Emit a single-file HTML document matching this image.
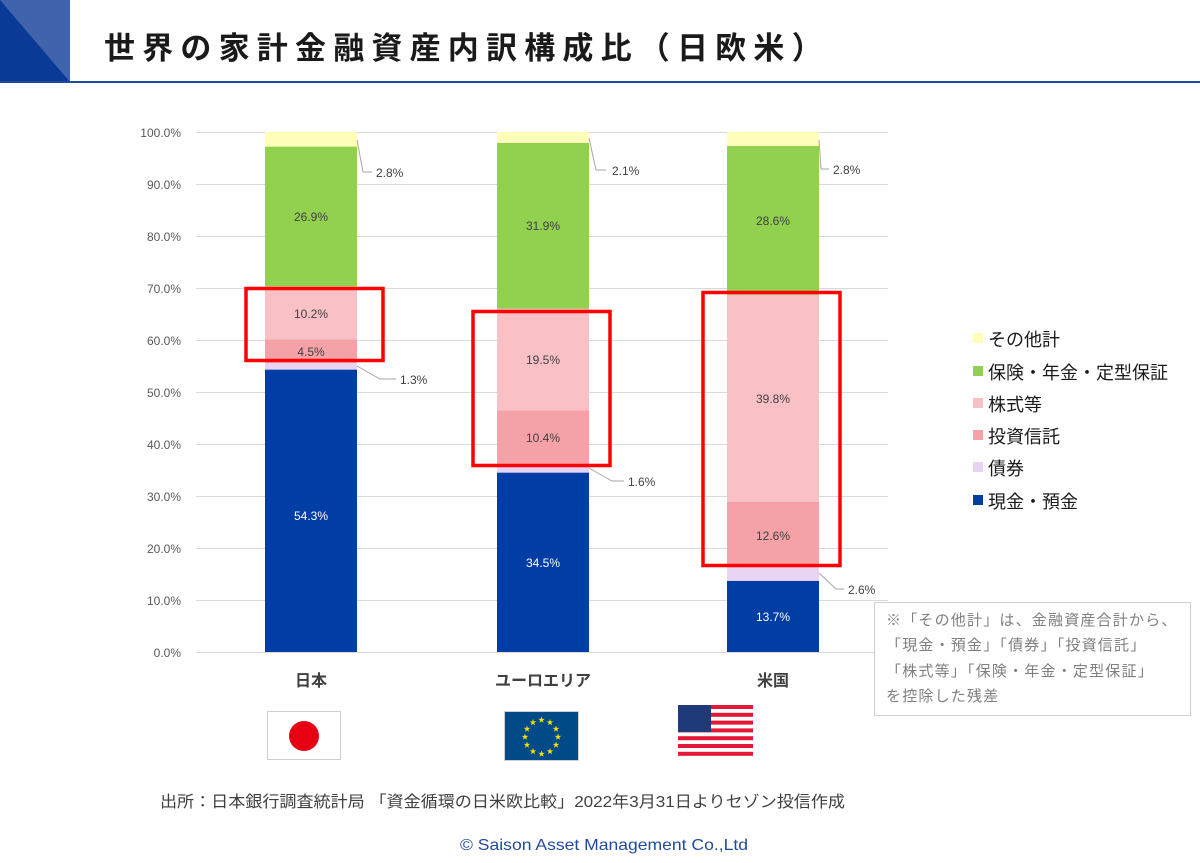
<!DOCTYPE html>
<html><head><meta charset="utf-8"><style>
html,body{margin:0;padding:0;background:#fff;}
body{width:1200px;height:858px;overflow:hidden;font-family:"Liberation Sans","Noto Sans CJK JP",sans-serif;}
</style></head><body>
<svg width="1200" height="858" viewBox="0 0 1200 858" xmlns="http://www.w3.org/2000/svg" font-family="Liberation Sans, Noto Sans CJK JP, sans-serif">
<rect x="0" y="0" width="70" height="82" fill="#3f63ad"/>
<polygon points="0,0 0,82 70,82" fill="#0a3a95"/>
<rect x="0" y="81" width="1200" height="2" fill="#1f4a9e"/>
<text x="104" y="59" font-size="31" font-weight="bold" fill="#1a1a1a" letter-spacing="7.2">世界の家計金融資産内訳構成比（日欧米）</text>
<g stroke="#d9d9d9" stroke-width="1">
<line x1="196" x2="888" y1="132.5" y2="132.5"/><line x1="196" x2="888" y1="184.5" y2="184.5"/>
<line x1="196" x2="888" y1="236.5" y2="236.5"/><line x1="196" x2="888" y1="288.5" y2="288.5"/>
<line x1="196" x2="888" y1="340.5" y2="340.5"/><line x1="196" x2="888" y1="392.5" y2="392.5"/>
<line x1="196" x2="888" y1="444.5" y2="444.5"/><line x1="196" x2="888" y1="496.5" y2="496.5"/>
<line x1="196" x2="888" y1="548.5" y2="548.5"/><line x1="196" x2="888" y1="600.5" y2="600.5"/>
<line x1="196" x2="888" y1="652.5" y2="652.5"/>
</g>
<g font-size="12" fill="#595959" text-anchor="end">
<text x="181" y="137">100.0%</text><text x="181" y="189">90.0%</text><text x="181" y="241">80.0%</text>
<text x="181" y="293">70.0%</text><text x="181" y="345">60.0%</text><text x="181" y="397">50.0%</text>
<text x="181" y="449">40.0%</text><text x="181" y="501">30.0%</text><text x="181" y="553">20.0%</text>
<text x="181" y="605">10.0%</text><text x="181" y="657">0.0%</text>
</g>
<g>
<rect x="265" y="369.6" width="92" height="282.4" fill="#003da5"/>
<rect x="265" y="362.9" width="92" height="6.7" fill="#e8d3f3"/>
<rect x="265" y="339.5" width="92" height="23.4" fill="#f4a2a8"/>
<rect x="265" y="286.4" width="92" height="53.1" fill="#f9c1c6"/>
<rect x="265" y="146.6" width="92" height="139.8" fill="#92d050"/>
<rect x="265" y="132" width="92" height="14.6" fill="#ffffb9"/>
</g>
<g>
<rect x="497" y="472.6" width="92" height="179.4" fill="#003da5"/>
<rect x="497" y="464.3" width="92" height="8.3" fill="#e8d3f3"/>
<rect x="497" y="410.2" width="92" height="54.1" fill="#f4a2a8"/>
<rect x="497" y="308.8" width="92" height="101.4" fill="#f9c1c6"/>
<rect x="497" y="142.9" width="92" height="165.9" fill="#92d050"/>
<rect x="497" y="132" width="92" height="10.9" fill="#ffffb9"/>
</g>
<g>
<rect x="727" y="580.8" width="92" height="71.2" fill="#003da5"/>
<rect x="727" y="567.2" width="92" height="13.6" fill="#e8d3f3"/>
<rect x="727" y="501.7" width="92" height="65.5" fill="#f4a2a8"/>
<rect x="727" y="294.8" width="92" height="206.9" fill="#f9c1c6"/>
<rect x="727" y="146" width="92" height="148.8" fill="#92d050"/>
<rect x="727" y="132" width="92" height="14" fill="#ffffb9"/>
</g>
<g font-size="12" fill="#404040" text-anchor="middle">
<text x="311" y="520" fill="#fff">54.3%</text>
<text x="311" y="356">4.5%</text>
<text x="311" y="318">10.2%</text>
<text x="311" y="221">26.9%</text>
<text x="543" y="567" fill="#fff">34.5%</text>
<text x="543" y="442">10.4%</text>
<text x="543" y="364">19.5%</text>
<text x="543" y="230">31.9%</text>
<text x="773" y="621" fill="#fff">13.7%</text>
<text x="773" y="540">12.6%</text>
<text x="773" y="403">39.8%</text>
<text x="773" y="225">28.6%</text>
</g>
<g stroke="#a6a6a6" fill="none" stroke-width="1">
<polyline points="357,140 363,172 372,172"/>
<polyline points="357,366 380,379 396,379"/>
<polyline points="589,138 596,170 606,170"/>
<polyline points="589,468 612,481 624,481"/>
<polyline points="819,140 821,169 829,169"/>
<polyline points="819,573 836,589 844,589"/>
</g>
<g font-size="12" fill="#404040">
<text x="376" y="177">2.8%</text>
<text x="400" y="384">1.3%</text>
<text x="612" y="175">2.1%</text>
<text x="628" y="486">1.6%</text>
<text x="833" y="174">2.8%</text>
<text x="848" y="594">2.6%</text>
</g>
<g fill="none" stroke="#ff0000" stroke-width="3.5">
<rect x="246" y="288.5" width="137" height="72"/>
<rect x="473" y="311.5" width="137" height="154"/>
<rect x="703" y="292.5" width="137" height="273"/>
</g>
<g font-size="16" font-weight="bold" fill="#404040" text-anchor="middle">
<text x="311" y="686">日本</text>
<text x="543" y="686">ユーロエリア</text>
<text x="773" y="686">米国</text>
</g>
<g font-size="18" fill="#1a1a1a">
<rect x="973" y="333" width="10" height="10" fill="#ffffb9"/><text x="988" y="346">その他計</text>
<rect x="973" y="366" width="10" height="10" fill="#92d050"/><text x="988" y="379">保険・年金・定型保証</text>
<rect x="973" y="398" width="10" height="10" fill="#f9c1c6"/><text x="988" y="411">株式等</text>
<rect x="973" y="430" width="10" height="10" fill="#f4a2a8"/><text x="988" y="443">投資信託</text>
<rect x="973" y="462" width="10" height="10" fill="#e8d3f3"/><text x="988" y="475">債券</text>
<rect x="973" y="495" width="10" height="10" fill="#003da5"/><text x="988" y="508">現金・預金</text>
</g>
<rect x="874.5" y="602.5" width="316" height="113" fill="#fff" stroke="#d0d0d0"/>
<g font-size="15" fill="#7f7f7f" letter-spacing="1.2">
<text x="886" y="625">※「その他計」は、金融資産合計から、</text>
<text x="886" y="650">「現金・預金」「債券」「投資信託」</text>
<text x="886" y="676">「株式等」「保険・年金・定型保証」</text>
<text x="886" y="701">を控除した残差</text>
</g>
<rect x="267.5" y="711.5" width="73" height="48" fill="#fff" stroke="#cfcfcf"/>
<circle cx="304" cy="736" r="15" fill="#e60012"/>
<rect x="504.5" y="711.5" width="74" height="49" fill="#004b87" stroke="#cfcfcf"/>
<g fill="#ffdd00" font-size="7" text-anchor="middle">
<text x="541.5" y="722">★</text><text x="550" y="724.5">★</text><text x="556" y="731">★</text>
<text x="558" y="739">★</text><text x="556" y="747">★</text><text x="550" y="753.5">★</text>
<text x="541.5" y="756">★</text><text x="533" y="753.5">★</text><text x="527" y="747">★</text>
<text x="525" y="739">★</text><text x="527" y="731">★</text><text x="533" y="724.5">★</text>
</g>
<g>
<rect x="678" y="705" width="75" height="51" fill="#fff"/>
<rect x="678" y="705" width="75" height="4" fill="#e31837"/>
<rect x="678" y="712.8" width="75" height="4" fill="#e31837"/>
<rect x="678" y="720.6" width="75" height="4" fill="#e31837"/>
<rect x="678" y="728.4" width="75" height="4" fill="#e31837"/>
<rect x="678" y="736.2" width="75" height="4" fill="#e31837"/>
<rect x="678" y="744" width="75" height="4" fill="#e31837"/>
<rect x="678" y="751.8" width="75" height="4" fill="#e31837"/>
<rect x="678" y="705" width="33" height="27" fill="#1f3a78"/>
</g>
<text x="160" y="807" font-size="16" fill="#404040" textLength="685" lengthAdjust="spacingAndGlyphs">出所：日本銀行調査統計局 「資金循環の日米欧比較」2022年3月31日よりセゾン投信作成</text>
<text x="460" y="850" font-size="16" fill="#1f4a9e" textLength="288" lengthAdjust="spacingAndGlyphs">© Saison Asset Management Co.,Ltd</text>
</svg>
</body></html>
